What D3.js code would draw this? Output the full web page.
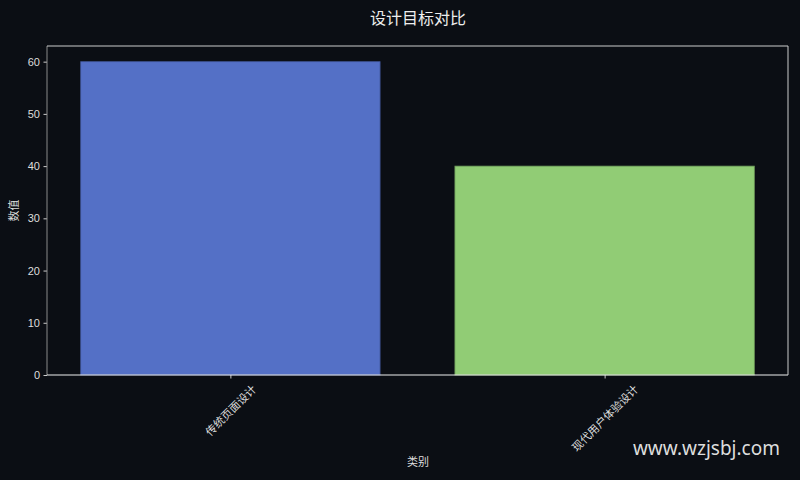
<!DOCTYPE html>
<html>
<head>
<meta charset="utf-8">
<script src="https://cdn.jsdelivr.net/npm/d3@7"></script>
<style>
  html, body { margin: 0; padding: 0; background: #0b0e14; }
  svg { display: block; }
  text { font-family: "Noto Sans CJK SC", "Liberation Sans", sans-serif; }
</style>
</head>
<body>
<div id="chart"></div>
<script>
// chart data
var categories = ["传统页面设计", "现代用户体验设计"];
var values = [60, 40];
var barColors = ["#5470c6", "#91cc75"];
var yTicks = [0, 10, 20, 30, 40, 50, 60];

var width = 800, height = 480;
var margin = { top: 46, right: 12, bottom: 105, left: 47 };
var w = width - margin.left - margin.right,
    h = height - margin.top - margin.bottom;

var svg = d3.select("#chart").append("svg")
    .attr("width", width)
    .attr("height", height);

svg.append("rect").attr("width", width).attr("height", height).attr("fill", "#0b0e14");

var g = svg.append("g").attr("transform", "translate(" + margin.left + "," + margin.top + ")");

// matplotlib-like x: positions 0..n-1 with 5% margin around bars of width 0.8
var n = categories.length;
var xlo = -0.4 - 0.05 * (n - 1 + 0.8), xhi = n - 1 + 0.4 + 0.05 * (n - 1 + 0.8);
var x = d3.scaleLinear().domain([xlo, xhi]).range([0, w]);
var y = d3.scaleLinear().domain([0, d3.max(values) * 1.05]).range([h, 0]);

// bars
g.selectAll("rect.bar")
    .data(values)
    .enter().append("rect")
    .attr("class", "bar")
    .attr("x", function (d, i) { return x(i - 0.4); })
    .attr("y", function (d) { return y(d); })
    .attr("width", function (d, i) { return x(i + 0.4) - x(i - 0.4); })
    .attr("height", function (d) { return h - y(d); })
    .attr("fill", function (d, i) { return barColors[i]; })
    .attr("stroke", function (d, i) { return d3.color(barColors[i]).darker(0.8); })
    .attr("stroke-width", 0.8);

// y axis
var yAxis = g.append("g")
    .call(d3.axisLeft(y).tickValues(yTicks).tickSize(3.5).tickPadding(3.5));
yAxis.select(".domain").remove();
yAxis.selectAll(".tick line").attr("stroke", "#cccccc");
yAxis.selectAll(".tick text").attr("fill", "#dddddd").style("font-size", "11px")
    .style("font-family", "'Liberation Sans', sans-serif");

// x axis, labels rotated 45deg and centred on the tick like matplotlib
var xAxis = g.append("g")
    .attr("transform", "translate(0," + h + ")")
    .call(d3.axisBottom(x).tickValues(d3.range(n)).tickSize(3.5).tickPadding(3)
        .tickFormat(function (i) { return categories[i]; }));
xAxis.select(".domain").remove();
xAxis.selectAll(".tick line").attr("stroke", "#cccccc");
xAxis.selectAll(".tick text")
    .attr("fill", "#dddddd")
    .style("font-size", "11px")
    .attr("text-anchor", "middle")
    .attr("y", 0)
    .attr("dy", "0.35em")
    .attr("transform", function () {
        var len = this.getComputedTextLength();
        var half = (len + 12) * Math.SQRT1_2 / 2;
        return "translate(0," + (8 + half) + ") rotate(-45)";
    });

// spines
g.append("line").attr("x1", 0).attr("x2", 0).attr("y1", 0).attr("y2", h).attr("stroke", "#8a8a8a").attr("stroke-width", 1);
g.append("line").attr("x1", 0).attr("x2", w).attr("y1", h).attr("y2", h).attr("stroke", "#eeeeee").attr("stroke-width", 1);
g.append("line").attr("x1", 0).attr("x2", w).attr("y1", 0).attr("y2", 0).attr("stroke", "#cccccc").attr("stroke-width", 1);
g.append("line").attr("x1", w).attr("x2", w).attr("y1", 0).attr("y2", h).attr("stroke", "#cccccc").attr("stroke-width", 1);

// title and axis labels
svg.append("text")
    .attr("x", 418).attr("y", 24)
    .attr("text-anchor", "middle")
    .attr("fill", "#eeeeee")
    .style("font-size", "16px")
    .text("设计目标对比");

svg.append("text")
    .attr("x", 418).attr("y", 466)
    .attr("text-anchor", "middle")
    .attr("fill", "#dddddd")
    .style("font-size", "11px")
    .text("类别");

svg.append("text")
    .attr("transform", "translate(18," + (margin.top + h / 2) + ") rotate(-90)")
    .attr("text-anchor", "middle")
    .attr("fill", "#dddddd")
    .style("font-size", "11px")
    .text("数值");

// watermark
svg.append("text")
    .attr("x", 780).attr("y", 455)
    .attr("text-anchor", "end")
    .attr("fill", "#dddddd")
    .style("font-size", "19px")
    .style("font-family", "'Noto Sans', sans-serif")
    .text("www.wzjsbj.com");
</script>
</body>
</html>
